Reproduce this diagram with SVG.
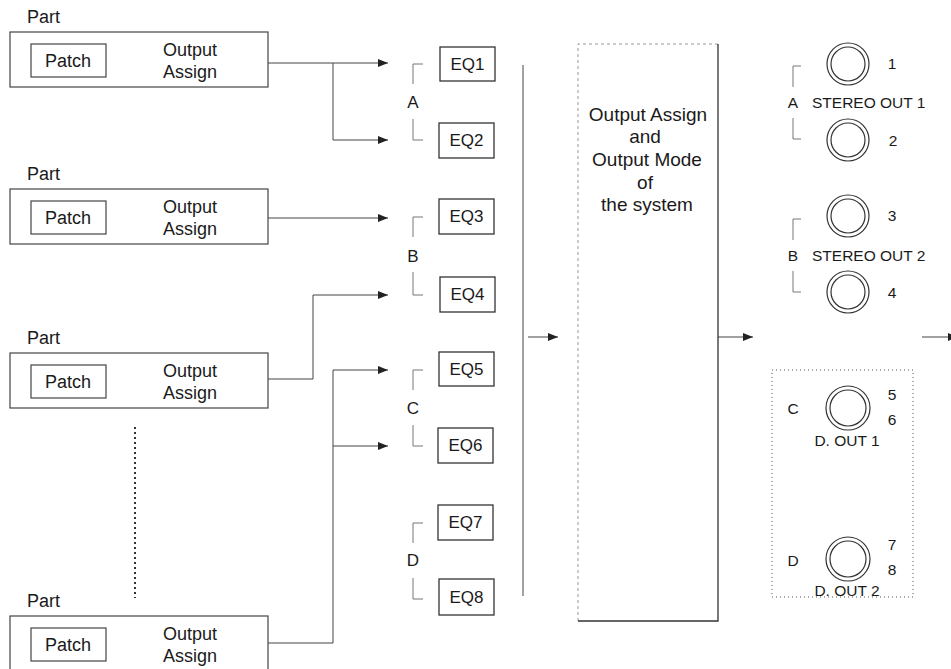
<svg xmlns="http://www.w3.org/2000/svg" width="951" height="669" viewBox="0 0 951 669">
<defs>
<style>
text{font-family:"Liberation Sans",Arial,sans-serif;fill:#1a1a1a}
.t17{font-size:17px}
.tp{font-size:18px}
.t18{font-size:19px}
.t15{font-size:15.5px}
.box{fill:none;stroke:#444;stroke-width:1.2}
.eq{fill:#fff;stroke:#333;stroke-width:1.3}
.con{fill:none;stroke:#444;stroke-width:1}
.br{fill:none;stroke:#777;stroke-width:1}
.jack{fill:none;stroke:#333;stroke-width:1.2}
.mid{text-anchor:middle}
</style>
<marker id="arr" markerUnits="userSpaceOnUse" markerWidth="11" markerHeight="9" refX="10" refY="4" orient="auto">
<path d="M0,0 L10,4 L0,8 Z" fill="#222"/>
</marker>
</defs>
<rect width="951" height="669" fill="#fff"/>

<g id="part1">
<text class="tp" x="27" y="23">Part</text>
<rect class="box" x="10" y="32" width="258" height="55"/>
<rect class="box" x="31" y="44" width="75" height="33"/>
<text class="tp" x="45" y="67">Patch</text>
<text class="tp" x="163" y="56">Output</text>
<text class="tp" x="163" y="78">Assign</text>
</g>
<g id="part2">
<text class="tp" x="27" y="180">Part</text>
<rect class="box" x="10" y="189" width="258" height="55"/>
<rect class="box" x="31" y="201" width="75" height="33"/>
<text class="tp" x="45" y="224">Patch</text>
<text class="tp" x="163" y="213">Output</text>
<text class="tp" x="163" y="235">Assign</text>
</g>
<g id="part3">
<text class="tp" x="27" y="344">Part</text>
<rect class="box" x="10" y="353" width="258" height="55"/>
<rect class="box" x="31" y="365" width="75" height="33"/>
<text class="tp" x="45" y="388">Patch</text>
<text class="tp" x="163" y="377">Output</text>
<text class="tp" x="163" y="399">Assign</text>
</g>
<g id="part4">
<text class="tp" x="27" y="607">Part</text>
<rect class="box" x="10" y="616" width="258" height="55"/>
<rect class="box" x="31" y="628" width="75" height="33"/>
<text class="tp" x="45" y="651">Patch</text>
<text class="tp" x="163" y="640">Output</text>
<text class="tp" x="163" y="662">Assign</text>
</g>
<g id="ellipsis">
<line x1="135" y1="427" x2="135" y2="598" stroke="#333" stroke-width="2" stroke-dasharray="2,3"/>
</g>

<g id="connectors">
<path class="con" d="M268,63 H388" marker-end="url(#arr)"/>
<path class="con" d="M333,63 V140 H388" marker-end="url(#arr)"/>
<path class="con" d="M268,218 H388" marker-end="url(#arr)"/>
<path class="con" d="M268,379 H313 V295 H388" marker-end="url(#arr)"/>
<path class="con" d="M268,643 H333 V370 H388" marker-end="url(#arr)"/>
<path class="con" d="M333,446 H388" marker-end="url(#arr)"/>
<path class="con" d="M523,65 V596" stroke="#555"/>
<path class="con" d="M528,337 H558" marker-end="url(#arr)"/>
<path class="con" d="M718,337 H753" marker-end="url(#arr)"/>
<path class="con" d="M922,337 H958" marker-end="url(#arr)"/>
</g>

<g id="eq-group-A">
<path class="br" d="M423,64 H413 V84 M413,119 V140 H423"/>
<text class="t17 mid" x="413" y="108">A</text>
</g>
<g id="eq-group-B">
<path class="br" d="M423,217 H413 V237 M413,272 V295 H423"/>
<text class="t17 mid" x="413" y="262">B</text>
</g>
<g id="eq-group-C">
<path class="br" d="M423,370 H413 V390 M413,425 V446 H423"/>
<text class="t17 mid" x="413" y="414">C</text>
</g>
<g id="eq-group-D">
<path class="br" d="M423,523 H413 V543 M413,578 V599 H423"/>
<text class="t17 mid" x="413" y="566">D</text>
</g>

<g id="eq1"><rect class="eq" x="440" y="47" width="55" height="34"/><text class="t17 mid" x="467.5" y="70">EQ1</text></g>
<g id="eq2"><rect class="eq" x="439" y="123" width="55" height="35"/><text class="t17 mid" x="466.5" y="146">EQ2</text></g>
<g id="eq3"><rect class="eq" x="439" y="199" width="55" height="35"/><text class="t17 mid" x="466.5" y="222">EQ3</text></g>
<g id="eq4"><rect class="eq" x="440" y="277" width="55" height="35"/><text class="t17 mid" x="467.5" y="300">EQ4</text></g>
<g id="eq5"><rect class="eq" x="439" y="352" width="55" height="34"/><text class="t17 mid" x="466.5" y="375">EQ5</text></g>
<g id="eq6"><rect class="eq" x="438" y="428" width="55" height="35"/><text class="t17 mid" x="465.5" y="451">EQ6</text></g>
<g id="eq7"><rect class="eq" x="438" y="505" width="55" height="35"/><text class="t17 mid" x="465.5" y="528">EQ7</text></g>
<g id="eq8"><rect class="eq" x="439" y="579" width="55" height="36"/><text class="t17 mid" x="466.5" y="603">EQ8</text></g>

<g id="system">
<path d="M718,44 H578 V621" fill="none" stroke="#999" stroke-width="1" stroke-dasharray="3,3"/>
<path d="M718,44 V621 H578" fill="none" stroke="#333" stroke-width="1.3"/>
<text class="t18 mid" x="648" y="121">Output Assign</text>
<text class="t18 mid" x="645" y="143">and</text>
<text class="t18 mid" x="647" y="166">Output Mode</text>
<text class="t18 mid" x="645" y="189">of</text>
<text class="t18 mid" x="647" y="211">the system</text>
</g>

<g id="stereo-out-1">
<path class="br" d="M801,66 H793 V87 M793,118 V139 H801"/>
<text class="t15 mid" x="793" y="108">A</text>
<text class="t15" x="812" y="108">STEREO OUT 1</text>
<circle class="jack" cx="848" cy="64" r="21"/><circle class="jack" cx="848" cy="64" r="17"/>
<circle class="jack" cx="848" cy="140" r="21"/><circle class="jack" cx="848" cy="140" r="17"/>
<text class="t15 mid" x="892" y="69">1</text>
<text class="t15 mid" x="893" y="146">2</text>
</g>
<g id="stereo-out-2">
<path class="br" d="M801,219 H793 V240 M793,271 V292 H801"/>
<text class="t15 mid" x="793" y="261">B</text>
<text class="t15" x="812" y="261">STEREO OUT 2</text>
<circle class="jack" cx="848" cy="216" r="21"/><circle class="jack" cx="848" cy="216" r="17"/>
<circle class="jack" cx="848" cy="292" r="21"/><circle class="jack" cx="848" cy="292" r="17"/>
<text class="t15 mid" x="892" y="221">3</text>
<text class="t15 mid" x="892" y="298">4</text>
</g>
<g id="d-outs">
<rect x="772" y="370" width="141" height="227" fill="none" stroke="#555" stroke-width="1" stroke-dasharray="1,3"/>
<text class="t15 mid" x="793" y="414">C</text>
<circle class="jack" cx="848" cy="408" r="22"/><circle class="jack" cx="848" cy="408" r="18"/>
<text class="t15 mid" x="892" y="400">5</text>
<text class="t15 mid" x="892" y="425">6</text>
<text class="t15 mid" x="847" y="446">D. OUT 1</text>
<text class="t15 mid" x="793" y="566">D</text>
<circle class="jack" cx="848" cy="559" r="22"/><circle class="jack" cx="848" cy="559" r="18"/>
<text class="t15 mid" x="892" y="550">7</text>
<text class="t15 mid" x="892" y="575">8</text>
<text class="t15 mid" x="847" y="596">D. OUT 2</text>
</g>
</svg>
